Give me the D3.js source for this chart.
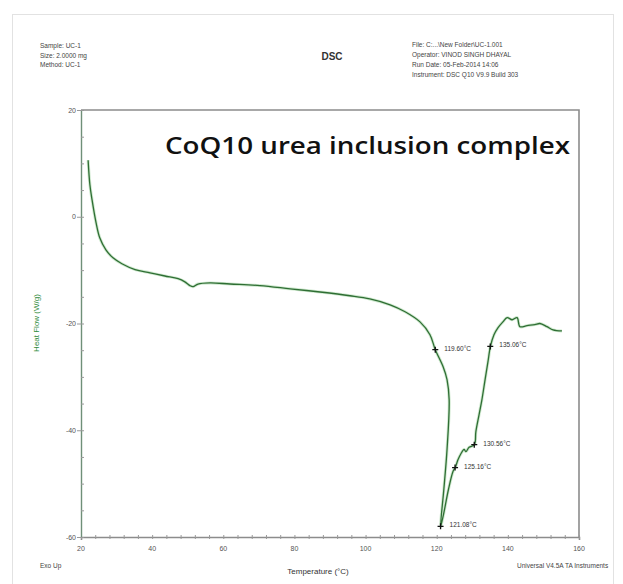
<!DOCTYPE html>
<html lang="en">
<head>
    <meta charset="UTF-8">
    <title>DSC - CoQ10 urea inclusion complex</title>
    <script src="https://d3js.org/d3.v7.js"></script>
    <style>
        body { margin: 0; background: #fff; }
        svg { display: block; }
        .tick-label { font-family: "Liberation Sans", Arial, sans-serif; font-size: 7px; fill: #555; }
        .hdr { font-family: "Liberation Sans", Arial, sans-serif; font-size: 6.5px; fill: #444; }
        .peak-label { font-family: "Liberation Sans", Arial, sans-serif; font-size: 6.5px; fill: #333; }
    </style>
</head>
<body>
    <svg width="623" height="584"></svg>
    <script>
        // curve, in recording order (T can step back on the melt)
        const temperature = [22.0, 22.5, 23.1, 24.2, 25.3, 27.0, 29.0, 31.5, 35.2, 39.4, 43.6, 47.3, 49.2, 50.6, 51.5, 52.9,
            56.3, 61.9, 70.3, 78.8, 87.2, 95.6, 101.2, 106.9, 111.1, 115.3, 118.1, 119.6, 121.8, 122.9, 123.5, 122.9,
            122.0, 121.1, 121.9, 123.3, 124.6, 125.2, 126.0, 126.8, 127.7, 128.2, 129.1, 130.6, 131.0, 131.9, 132.7,
            133.6, 134.4, 135.1, 136.1, 137.2, 138.6, 139.8, 141.2, 142.6, 143.4, 145.4, 147.6, 149.0, 151.0, 152.7, 155.2];
        const heatFlow = [10.6, 6.0, 3.2, -1.0, -4.0, -6.2, -7.7, -8.8, -9.9, -10.5, -11.1, -11.6, -12.2, -12.9, -13.1, -12.6,
            -12.4, -12.6, -12.9, -13.5, -14.1, -14.8, -15.4, -16.5, -17.8, -19.7, -22.1, -24.9, -28.1, -30.5, -34.3, -43.6,
            -51.1, -58.0, -55.8, -51.1, -47.7, -47.0, -45.5, -44.4, -43.6, -44.0, -43.2, -42.7, -40.3, -37.1, -34.3,
            -30.5, -27.2, -24.3, -22.1, -20.8, -19.7, -18.9, -19.3, -18.9, -20.6, -20.4, -20.2, -20.0, -20.6, -21.2, -21.4];

        const peakTemps = [119.60, 121.08, 125.16, 130.56, 135.06];
        const peakFlows = [-24.9, -58.0, -47.0, -42.7, -24.3];
        const peakLabels = ["119.60°C", "121.08°C", "125.16°C", "130.56°C", "135.06°C"];

        const xTicks = [20, 40, 60, 80, 100, 120, 140, 160];
        const yTicks = [20, 0, -20, -40, -60];

        const headerLeft = ["Sample: UC-1", "Size:  2.0000 mg", "Method: UC-1"];
        const headerRight = ["File: C:...\\New Folder\\UC-1.001", "Operator: VINOD SINGH DHAYAL",
            "Run Date: 05-Feb-2014 14:06", "Instrument: DSC Q10 V9.9 Build 303"];

        const svg = d3.select("svg");
        const plot = { left: 81, right: 579, top: 110, bottom: 537 };

        const x = d3.scaleLinear().domain([20, 160]).range([plot.left, plot.right]);
        const y = d3.scaleLinear().domain([-60, 20]).range([plot.bottom, plot.top]);

        // faint page frame
        svg.append("rect")
            .attr("x", 12.5).attr("y", 14.5).attr("width", 601).attr("height", 580)
            .attr("fill", "none").attr("stroke", "#e2e2e2");

        // header
        svg.append("g").selectAll("text").data(headerLeft).enter().append("text")
            .attr("class", "hdr").attr("x", 40).attr("y", (d, i) => 48 + i * 9.5).text(d => d);
        svg.append("g").selectAll("text").data(headerRight).enter().append("text")
            .attr("class", "hdr").attr("x", 412).attr("y", (d, i) => 47 + i * 10).text(d => d);
        svg.append("text")
            .attr("x", 332).attr("y", 60).attr("text-anchor", "middle")
            .style("font-family", "Liberation Sans, Arial, sans-serif")
            .style("font-size", "10px").style("font-weight", "bold").style("fill", "#333")
            .text("DSC");

        // frame top/right
        svg.append("path")
            .attr("d", `M${plot.left},${plot.top}H${plot.right}V${plot.bottom}`)
            .attr("fill", "none").attr("stroke", "#8c8c8c").attr("stroke-width", 1.6);

        // x axis
        const xAxis = svg.append("g").attr("transform", `translate(0,${plot.bottom})`);
        xAxis.call(d3.axisBottom(x).tickValues(d3.range(20, 161, 4)).tickSize(3).tickFormat(""));
        xAxis.select(".domain").attr("stroke", "#8c8c8c").attr("stroke-width", 1.6);
        xAxis.selectAll(".tick line").attr("stroke", "#999").attr("y1", -2).attr("y2", 2);
        svg.append("g").selectAll("text").data(xTicks).enter().append("text")
            .attr("class", "tick-label").attr("text-anchor", "middle")
            .attr("x", d => x(d)).attr("y", plot.bottom + 14).text(d => d);

        // y axis
        const yAxis = svg.append("g").attr("transform", `translate(${plot.left},0)`);
        yAxis.call(d3.axisLeft(y).tickValues(d3.range(-60, 21, 5)).tickSize(0).tickFormat(""));
        yAxis.select(".domain").attr("stroke", "#6f8f78").attr("stroke-width", 1.4);
        yAxis.selectAll(".tick line").attr("stroke", "#999")
            .attr("x1", d => yTicks.includes(d) ? -4 : 0).attr("x2", 3);
        svg.append("g").selectAll("text").data(yTicks).enter().append("text")
            .attr("class", "tick-label").attr("text-anchor", "end")
            .attr("x", plot.left - 5).attr("y", d => y(d) + 2.5).text(d => d);

        // axis titles
        svg.append("text")
            .attr("x", 318).attr("y", 574).attr("text-anchor", "middle")
            .style("font-family", "Liberation Sans, Arial, sans-serif").style("font-size", "8px").style("fill", "#333")
            .text("Temperature (°C)");
        svg.append("text")
            .attr("transform", "translate(39,323) rotate(-90)").attr("text-anchor", "middle")
            .style("font-family", "Liberation Sans, Arial, sans-serif").style("font-size", "8px").style("fill", "#2e8b3a")
            .text("Heat Flow (W/g)");
        svg.append("text").attr("class", "hdr").attr("x", 40).attr("y", 568).text("Exo Up");
        svg.append("text").attr("class", "hdr").attr("x", 517).attr("y", 568).text("Universal V4.5A TA Instruments");

        // curve
        const points = temperature.map((t, i) => [t, heatFlow[i]]);
        const line = d3.line().x(d => x(d[0])).y(d => y(d[1])).curve(d3.curveCatmullRom.alpha(0.5));
        svg.append("path").datum(points)
            .attr("d", line).attr("fill", "none")
            .attr("stroke", "#9fd39f").attr("stroke-width", 3).attr("opacity", 0.5);
        svg.append("path").datum(points)
            .attr("d", line).attr("fill", "none")
            .attr("stroke", "#2f6e34").attr("stroke-width", 1.3);

        // peak markers + labels
        const peaks = peakTemps.map((t, i) => ({ t: t, f: peakFlows[i], label: peakLabels[i] }));
        const pk = svg.append("g").selectAll("g").data(peaks).enter().append("g")
            .attr("transform", d => `translate(${x(d.t)},${y(d.f)})`);
        pk.append("path").attr("d", "M-3,0H3M0,-3V3").attr("stroke", "#111").attr("stroke-width", 1.3);
        pk.append("text").attr("class", "peak-label").attr("x", 9).attr("y", 1).text(d => d.label);

        // title
        svg.append("text")
            .attr("x", 165).attr("y", 154)
            .attr("textLength", 405).attr("lengthAdjust", "spacingAndGlyphs")
            .style("font-family", "Open Sans, sans-serif").style("font-size", "23px")
            .style("font-weight", "600").style("fill", "#111")
            .text("CoQ10 urea inclusion complex");
    </script>
</body>
</html>
